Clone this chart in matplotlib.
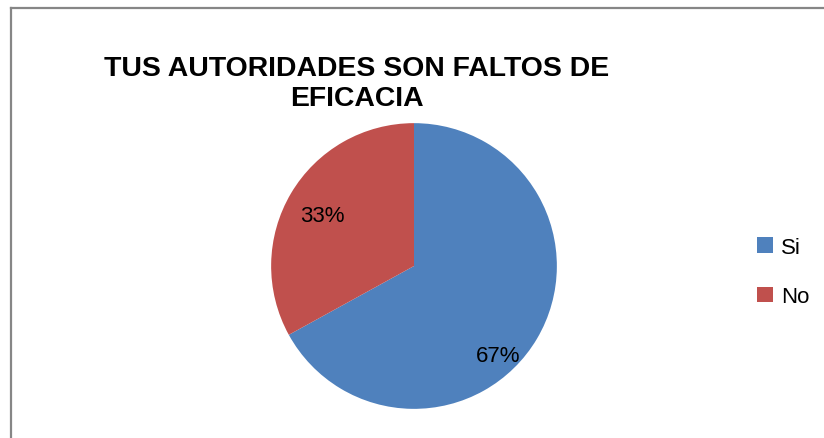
import matplotlib.pyplot as plt
from matplotlib.patches import Patch
from matplotlib.lines import Line2D

labels = ['Si', 'No']
values = [67, 33]
colors = ['#4F81BD', '#C0504D']
title = 'TUS AUTORIDADES SON FALTOS DE\nEFICACIA'

W, H = 824, 439
fig = plt.figure(figsize=(W / 100, H / 100), dpi=100)

# gray chart frame (only top and left edges visible in the crop)
fig.add_artist(Line2D([11 / W, 11 / W], [0, 1 - 9 / H], color='#868686', lw=1.6))
fig.add_artist(Line2D([11 / W, 1], [1 - 9 / H, 1 - 9 / H], color='#868686', lw=1.6))

cx, cy, half = 414, 267, 150
ax = fig.add_axes([(cx - half) / W, (H - cy - half) / H, 2 * half / W, 2 * half / H])
wedges, texts, autotexts = ax.pie(values, colors=colors, startangle=90, counterclock=False,
                                  autopct='%1.0f%%', pctdistance=0.73,
                                  textprops=dict(fontsize=16, family='Liberation Sans',
                                                 color='black'))
ax.set_xlim(-1.05, 1.05)
ax.set_ylim(-1.05, 1.05)
ax.set_aspect('equal')
ax.axis('off')

# Excel put the big label further out toward the lower right
autotexts[0].set_position((0.59, -0.63))
autotexts[1].set_position((-0.64, 0.35))

fig.text(357 / W, 1 - 84 / H, title, ha='center', va='center', fontsize=20.4,
         fontweight='bold', family='Liberation Sans', linespacing=1.15)

handles = [Patch(facecolor=c, edgecolor='none') for c in colors]
fig.legend(handles, labels, loc='center left', bbox_to_anchor=(737 / W, 1 - 273 / H),
           frameon=False, prop=dict(family='Liberation Sans', size=16), handlelength=0.7,
           handleheight=0.7, handletextpad=0.4, labelspacing=1.3)

fig.savefig('out.png', dpi=100)
